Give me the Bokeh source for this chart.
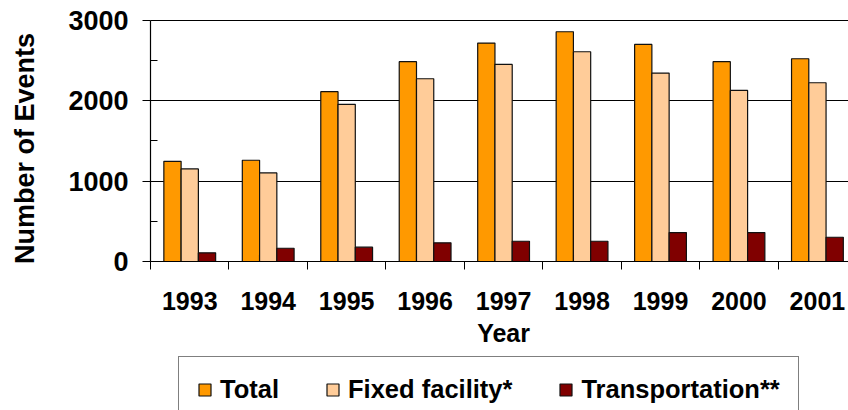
import math
from bokeh.plotting import figure
from bokeh.models import Range1d, FixedTicker, Legend, LegendItem, Label
from bokeh.embed import file_html
from bokeh.resources import INLINE

years = [1993, 1994, 1995, 1996, 1997, 1998, 1999, 2000, 2001]
total = [1247, 1260, 2114, 2487, 2719, 2860, 2702, 2487, 2524]
fixed_facility = [1152, 1103, 1956, 2275, 2453, 2611, 2346, 2130, 2225]
transportation = [108, 165, 178, 232, 252, 252, 360, 360, 302]
series_names = ["Total", "Fixed facility*", "Transportation**"]
colors = ["#FF9900", "#FFCC99", "#800000"]
y_ticks = [0, 1000, 2000, 3000]
y_minor = [500, 1500, 2500]

FONT = "Liberation Sans"
bar_w = 0.22
offsets = [-bar_w, 0.0, bar_w]

x_lo = years[0] - 0.5
x_hi = 2001.396
x_start = 1990.588
y_start, y_end = -1855, 3249

# the frame covers the whole canvas; both axes are pinned inside it
p = figure(width=848, height=410, output_backend="svg", toolbar_location=None,
           x_range=Range1d(x_start, x_hi), y_range=Range1d(y_start, y_end),
           min_border_left=0, min_border_right=0, min_border_top=0,
           min_border_bottom=0)
p.outline_line_color = None
p.background_fill_color = "white"
p.border_fill_color = "white"

renderers = []
for vals, off, col in zip([total, fixed_facility, transportation], offsets, colors):
    r = p.vbar(x=[y + off for y in years], top=vals, width=bar_w, bottom=0,
               fill_color=col, line_color="#111111", line_width=1.2)
    renderers.append(r)

# grid
p.xgrid.grid_line_color = None
yg = p.ygrid[0]
yg.ticker = FixedTicker(ticks=y_ticks)
yg.grid_line_color = "black"
yg.grid_line_width = 1
yg.bounds = (0, 3000)
if "cross_bounds" in yg.properties():
    yg.cross_bounds = (x_lo, x_hi)
else:
    yg.grid_line_color = None
    p.segment(x0=[x_lo] * len(y_ticks), x1=[x_hi] * len(y_ticks),
              y0=y_ticks, y1=y_ticks, line_color="black", line_width=1,
              level="underlay")

# y axis
ya = p.yaxis[0]
ya.fixed_location = x_lo
ya.bounds = (0, 3000)
ya.ticker = FixedTicker(ticks=y_ticks, minor_ticks=y_minor)
ya.axis_line_color = "black"
ya.axis_line_width = 1.2
ya.major_tick_out = 8
ya.major_tick_in = 0
ya.major_tick_line_color = "black"
ya.minor_tick_in = 7
ya.minor_tick_out = 0
ya.minor_tick_line_color = "black"
ya.major_label_text_font = FONT
ya.major_label_text_font_style = "bold"
ya.major_label_text_font_size = "27px"
ya.major_label_text_color = "black"
ya.major_label_standoff = 14

# x axis pinned at value 0
xa = p.xaxis[0]
xa.fixed_location = 0
xa.bounds = (x_lo, x_hi)
boundaries = [y - 0.5 for y in years] + [years[-1] + 0.5]
xa.ticker = FixedTicker(ticks=years, minor_ticks=boundaries)
xa.axis_line_color = "black"
xa.axis_line_width = 1.2
xa.major_tick_line_color = None
xa.major_tick_out = 8
xa.major_tick_in = 0
xa.minor_tick_out = 8
xa.minor_tick_in = 0
xa.minor_tick_line_color = "black"
xa.major_label_text_font = FONT
xa.major_label_text_font_style = "bold"
xa.major_label_text_font_size = "25px"
xa.major_label_text_color = "black"
xa.major_label_standoff = 23

# axis titles
p.add_layout(Label(x=24, y=262, x_units="screen", y_units="screen",
                   text="Number of Events", angle=math.pi / 2,
                   text_align="center", text_baseline="middle",
                   text_font=FONT, text_font_style="bold",
                   text_font_size="27px", text_color="black"))
p.add_layout(Label(x=(years[0] + years[-1]) / 2, y=78, x_units="data",
                   y_units="screen", text="Year",
                   text_align="center", text_baseline="middle",
                   text_font=FONT, text_font_style="bold",
                   text_font_size="25px", text_color="black"))

items = [LegendItem(label=n, renderers=[r]) for n, r in zip(series_names, renderers)]
legend = Legend(items=items, orientation="horizontal", location=(178, -13),
                glyph_width=15, glyph_height=15, label_standoff=8, spacing=46,
                padding=18, margin=0, label_height=15, label_width=10,
                label_text_font=FONT, label_text_font_style="bold",
                label_text_font_size="25.5px", label_text_color="black",
                border_line_color="black", border_line_width=1.5,
                background_fill_color="white", background_fill_alpha=1.0,
                click_policy="none")
p.add_layout(legend)

open("out.html", "w").write(file_html(p, INLINE))
